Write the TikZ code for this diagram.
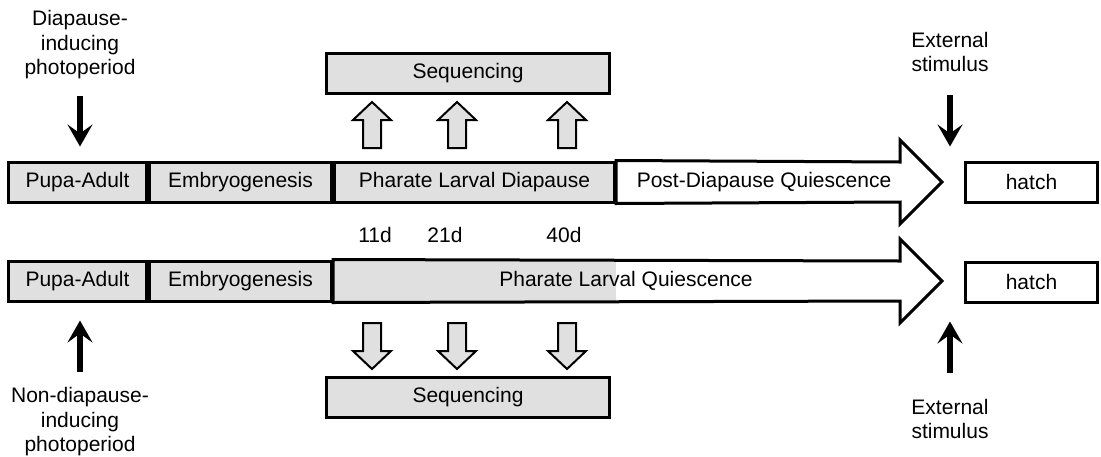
\documentclass[tikz,border=0pt]{standalone}
\usepackage{fontspec}
\setmainfont{Liberation Sans}
\usetikzlibrary{arrows.meta}
\begin{document}
\begin{tikzpicture}[x=1pt,y=-1pt,
            every node/.style={font=\fontsize{21}{24.5}\selectfont},
            stage node/.style={draw=black, line width=3pt, fill=black!12, minimum height=40pt, inner sep=0pt, anchor=west},
            label node/.style={align=center, inner sep=0pt},
            big arrow/.style={draw=black, line width=3pt, line join=miter},
            hollow arrow/.style={draw=black, line width=2pt, fill=black!12, line join=miter},
            signal/.style={line width=6pt, -{Stealth[length=22pt,width=25pt,inset=9pt]}},
            ]
            \useasboundingbox (0,0) rectangle (1101,456);

            \node[stage node, minimum width=138pt] (pa1) at (7,182) {Pupa-Adult};
            \node[stage node, minimum width=182pt] (em1) at (pa1.east) {Embryogenesis};
            \node[stage node, minimum width=280pt] (pld) at (em1.east) {Pharate Larval Diapause};
            \draw[big arrow] (pld.north east) -- (900,162) -- (900,140) -- (942,182) -- (900,224) -- (900,202) -- (pld.south east) -- cycle;
            \node (pdq) at (764,182) {Post-Diapause Quiescence};
            \node[stage node, fill=white, minimum width=132pt] (h1) at (964,182) {hatch};

            \node[stage node, minimum width=138pt] (pa2) at (7,281) {Pupa-Adult};
            \node[stage node, minimum width=182pt] (em2) at (pa2.east) {Embryogenesis};
            \fill[black!12] (em2.north east) rectangle (pld.south east |- em2.south east);
            \draw[big arrow] (em2.north east) -- (900,261) -- (900,239) -- (942,281) -- (900,323) -- (900,301) -- (em2.south east) -- cycle;
            \node (plq) at (626,281) {Pharate Larval Quiescence};
            \node[stage node, fill=white, minimum width=132pt] (h2) at (964,282) {hatch};

            \node[stage node, minimum width=283pt] (seq1) at (325,73.5) {Sequencing};
            \node[stage node, minimum width=283pt] (seq2) at (325,397) {Sequencing};

            \foreach \x in {372,457,567} {
                \draw[hollow arrow] ({\x-9},148) -- ({\x-9},120) -- ({\x-19},120) -- (\x,102) -- ({\x+19},120) -- ({\x+9},120) -- ({\x+9},148) -- cycle;
                \draw[hollow arrow] ({\x-9},323) -- ({\x-9},351) -- ({\x-19},351) -- (\x,369) -- ({\x+19},351) -- ({\x+9},351) -- ({\x+9},323) -- cycle;
            }

            \node (d11) at (375,235) {11d};
            \node (d21) at (445,235) {21d};
            \node (d40) at (564,235) {40d};

            \node[label node] (dip) at (80,45) {Diapause-\\inducing\\photoperiod};
            \node[label node] (ndip) at (80,422) {Non-diapause-\\inducing\\photoperiod};
            \node[label node] (ext1) at (950,52) {External\\stimulus};
            \node[label node] (ext2) at (950,419) {External\\stimulus};

            \draw[signal, shorten <=17pt, shorten >=14pt] (dip.south) -- (dip.south |- pa1.north);
            \draw[signal, shorten <=16pt, shorten >=18pt] (ndip.north) -- (ndip.north |- pa2.south);
            \draw[signal, shorten <=23pt, shorten >=14pt] (ext1.south) -- (ext1.south |- h1.north);
            \draw[signal, shorten <=26pt, shorten >=18pt] (ext2.north) -- (ext2.north |- h2.south);
        \end{tikzpicture}
\end{document}
